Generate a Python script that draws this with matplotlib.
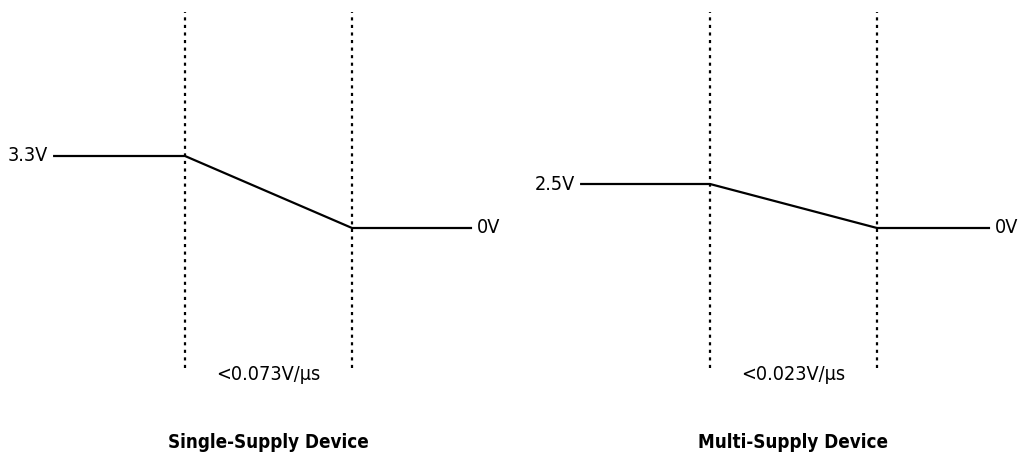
import matplotlib
matplotlib.use('Agg')
import matplotlib.pyplot as plt
from matplotlib import font_manager

# pick a narrow face if one is installed
narrow = [f for f in font_manager.fontManager.ttflist
          if f.stretch in ('condensed', 'semi-condensed', 'extra-condensed', 'narrow')
          or 'Narrow' in f.name or 'Condensed' in f.name]
if narrow:
    family = [narrow[0].name, 'DejaVu Sans']
    stretch = narrow[0].stretch
    fs, fs_title = 14.2, 13.5
else:
    family = ['DejaVu Sans']
    stretch = 'normal'
    fs, fs_title = 12, 11.5
plt.rcParams['font.family'] = family

# data: supply voltage levels and ramp-down slopes
titles = ['Single-Supply Device', 'Multi-Supply Device']
v_high = [3.3, 2.5]
v_low = [0.0, 0.0]
high_labels = ['3.3V', '2.5V']
low_labels = ['0V', '0V']
slope_labels = ['<0.073V/\u00b5s', '<0.023V/\u00b5s']
# time points (ramp runs from 0 to 1)
t_start = [-0.790, -0.778]
t_end = [1.719, 1.677]

# pixel layout helpers
W, H = 1026, 454
px_per_t = 167.0
ramp_x0 = [185, 710]        # pixel of t=0 in each panel
y_zero = 226.0              # pixels from bottom for 0V
px_per_v = [72 / 3.3, 44 / 2.5]

fig = plt.figure(figsize=(W / 100, H / 100), dpi=100)

for i in range(2):
    left = i * 513
    ax = fig.add_axes([left / W, 0, 513 / W, 1])
    ax.set_xlim(-(ramp_x0[i] - left) / px_per_t, (left + 513 - ramp_x0[i]) / px_per_t)
    ax.set_ylim(-y_zero / px_per_v[i], (H - y_zero) / px_per_v[i])
    ax.axis('off')

    t = [t_start[i], 0, 1, t_end[i]]
    v = [v_high[i], v_high[i], v_low[i], v_low[i]]
    ax.plot(t, v, color='black', lw=1.6, solid_capstyle='butt')

    for tv in (0, 1):
        ax.axvline(tv, ymin=86 / H, ymax=442 / H, color='black', lw=1.6,
                   linestyle=(0, (1.4, 2.0)))

    kw = dict(fontstretch=stretch)
    ax.text(t_start[i] - 5 / px_per_t, v_high[i], high_labels[i], ha='right',
            va='center', fontsize=fs, **kw)
    ax.text(t_end[i] + 5 / px_per_t, v_low[i], low_labels[i], ha='left',
            va='center', fontsize=fs, **kw)
    ax.text(0.5, 0.176, slope_labels[i], transform=ax.get_xaxis_transform(),
            ha='center', va='center', fontsize=fs, **kw)
    ax.text(0.5, 0.026, titles[i], transform=ax.get_xaxis_transform(),
            ha='center', va='center', fontweight='bold', fontsize=fs_title, **kw)

fig.savefig('out.png', dpi=100)
